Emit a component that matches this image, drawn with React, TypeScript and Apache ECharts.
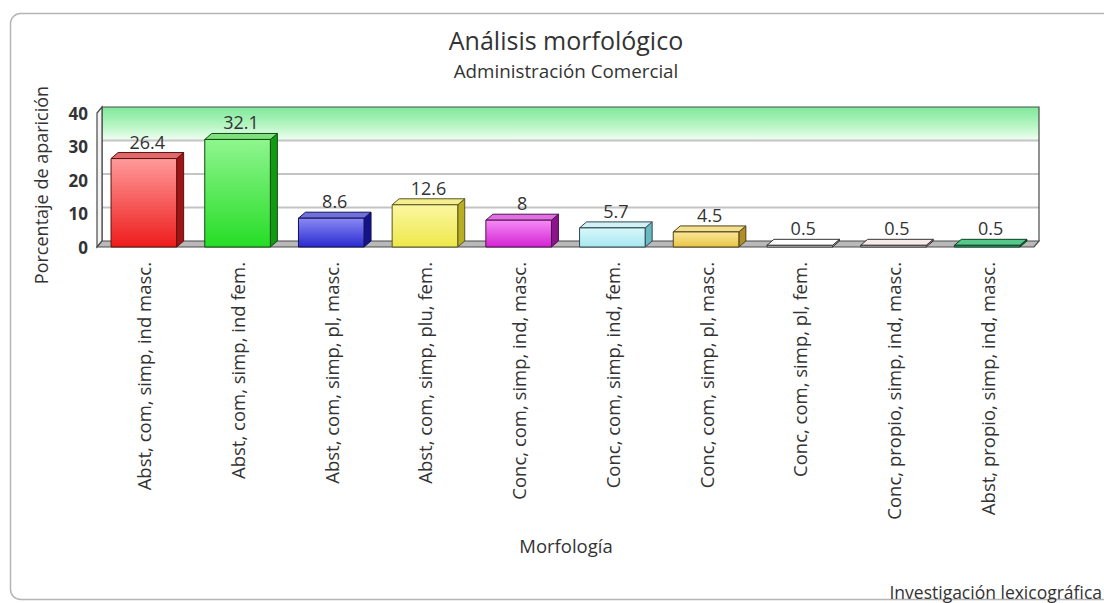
import React, { useEffect, useRef } from "react";
import * as echarts from "echarts";

const categories = [
  "Abst, com, simp, ind masc.",
  "Abst, com, simp, ind fem.",
  "Abst, com, simp, pl, masc.",
  "Abst, com, simp, plu, fem.",
  "Conc, com, simp, ind, masc.",
  "Conc, com, simp, ind, fem.",
  "Conc, com, simp, pl, masc.",
  "Conc, com, simp, pl, fem.",
  "Conc, propio, simp, ind, masc.",
  "Abst, propio, simp, ind, masc.",
];
const values = [26.4, 32.1, 8.6, 12.6, 8, 5.7, 4.5, 0.5, 0.5, 0.5];
const yTicks = [0, 10, 20, 30, 40];
const bandRange = [30, 40];

const barColors = [
  { light: "#ff9a9a", main: "#ee1c1c", side: "#a01414", top: "#e06a6a", edge: "#5a1010" },
  { light: "#8ff58f", main: "#26dd26", side: "#129a12", top: "#7ee07e", edge: "#0d4d0d" },
  { light: "#8a8af5", main: "#2a2ad0", side: "#14148a", top: "#7070dd", edge: "#101050" },
  { light: "#fbf7a0", main: "#eee84a", side: "#b8ae22", top: "#f4ee90", edge: "#555520" },
  { light: "#f58af5", main: "#d424d4", side: "#8a148a", top: "#e070e0", edge: "#501050" },
  { light: "#d8f8fb", main: "#a8e8f0", side: "#6ab8c2", top: "#d0f2f6", edge: "#304850" },
  { light: "#fbe79a", main: "#e8c444", side: "#b08e28", top: "#f3df90", edge: "#504018" },
  { light: "#ffffff", main: "#f4f4f4", side: "#bdbdbd", top: "#ffffff", edge: "#333333" },
  { light: "#f8eeee", main: "#ead8d8", side: "#b8a0a0", top: "#f6eaea", edge: "#333333" },
  { light: "#5fd495", main: "#22aa66", side: "#117744", top: "#55c88a", edge: "#0d3d22" },
];

const FONT = "'Open Sans', 'Noto Sans', sans-serif";
const DX = 5;
const DY = -6;
const BDX = 7;
const BDY = -6;

export default function App() {
  const ref = useRef<HTMLDivElement>(null);
  useEffect(() => {
    if (!ref.current) return;
    const chart = echarts.init(ref.current, null, { renderer: "svg" });
    const option: any = {
      animation: false,
      backgroundColor: "#ffffff",
      grid: { left: 97, right: 70, top: 113, bottom: 356, containLabel: false },
      xAxis: {
        type: "category",
        data: categories,
        axisLine: { show: false },
        axisTick: { show: false },
        axisLabel: {
          interval: 0,
          rotate: 90,
          margin: 15,
          fontSize: 18.5,
          color: "#333",
          fontFamily: FONT,
        },
      },
      yAxis: {
        type: "value",
        min: 0,
        max: 40,
        interval: 10,
        axisLine: { show: false },
        axisTick: { show: false },
        splitLine: { show: false },
        axisLabel: {
          margin: 9,
          fontSize: 17,
          fontWeight: "bold",
          color: "#333",
          fontFamily: FONT,
        },
      },
      graphic: [
        {
          type: "rect",
          z: -10,
          shape: { x: 10.5, y: 13.5, width: 1110, height: 586, r: 10 },
          style: { fill: "#ffffff", stroke: "#b5b5b5", lineWidth: 1.5 },
        },
        {
          type: "text",
          x: 566,
          y: 40,
          style: {
            text: "Análisis morfológico",
            font: `25px ${FONT}`,
            fill: "#333",
            align: "center",
            verticalAlign: "middle",
          },
        },
        {
          type: "text",
          x: 566,
          y: 71,
          style: {
            text: "Administración Comercial",
            font: `18.8px ${FONT}`,
            fill: "#333",
            align: "center",
            verticalAlign: "middle",
          },
        },
        {
          type: "text",
          x: 41,
          y: 185,
          rotation: Math.PI / 2,
          style: {
            text: "Porcentaje de aparición",
            font: `18px ${FONT}`,
            fill: "#333",
            align: "center",
            verticalAlign: "middle",
          },
        },
        {
          type: "text",
          x: 566,
          y: 545,
          style: {
            text: "Morfología",
            font: `18.5px ${FONT}`,
            fill: "#333",
            align: "center",
            verticalAlign: "middle",
          },
        },
        {
          type: "text",
          x: 1102,
          y: 592,
          style: {
            text: "Investigación lexicográfica",
            font: `17.5px ${FONT}`,
            fill: "#333",
            align: "right",
            verticalAlign: "middle",
          },
        },
      ],
      series: [
        {
          type: "custom",
          z: 1,
          silent: true,
          data: [[0, 0]],
          renderItem: (params: any, api: any) => {
            const cs = params.coordSys;
            const fl = cs.x;
            const fr = cs.x + cs.width;
            const ft = cs.y;
            const fb = cs.y + cs.height;
            const bl = fl + DX;
            const br = fr + DX;
            const bt = ft + DY;
            const bb = fb + DY;
            const yb1 = api.coord([0, bandRange[1]])[1] + DY;
            const yb0 = api.coord([0, bandRange[0]])[1] + DY;
            const children: any[] = [
              {
                type: "rect",
                shape: { x: bl, y: bt, width: br - bl, height: bb - bt },
                style: { fill: "#ffffff", stroke: "none" },
              },
              {
                type: "rect",
                shape: { x: bl, y: yb1, width: br - bl, height: yb0 - yb1 },
                style: {
                  fill: new echarts.graphic.LinearGradient(0, 0, 0, 1, [
                    { offset: 0, color: "#7ee99a" },
                    { offset: 0.55, color: "#b6f5c2" },
                    { offset: 1, color: "#f2fff4" },
                  ]),
                },
              },
            ];
            yTicks.forEach((t) => {
              if (t === 0 || t === 40) return;
              const y = api.coord([0, t])[1] + DY;
              children.push({
                type: "line",
                shape: { x1: bl, y1: y, x2: br, y2: y },
                style: { stroke: "#c4c4c4", lineWidth: 2 },
              });
              children.push({
                type: "line",
                shape: { x1: fl, y1: y - DY, x2: bl, y2: y },
                style: { stroke: "#c4c4c4", lineWidth: 2 },
              });
            });
            children.push({
              type: "polyline",
              shape: { points: [[bl, bb], [bl, bt], [br, bt], [br, bb]] },
              style: { stroke: "#4a4a4a", lineWidth: 1.2, fill: "none" },
            });
            children.push({
              type: "polygon",
              shape: { points: [[fl, ft], [bl, bt], [bl, bb], [fl, fb]] },
              style: { fill: "#f3f3f3", stroke: "#4a4a4a", lineWidth: 1.2 },
            });
            children.push({
              type: "polygon",
              shape: { points: [[fl, fb], [bl, bb], [br, bb], [fr, fb]] },
              style: { fill: "#b9b9b9", stroke: "#4a4a4a", lineWidth: 1.2 },
            });
            return { type: "group", children };
          },
        },
        {
          type: "custom",
          z: 2,
          data: values.map((v, i) => [i, v]),
          renderItem: (params: any, api: any) => {
            const idx = api.value(0);
            const v = api.value(1);
            const top = api.coord([idx, v]);
            const base = api.coord([idx, 0]);
            const bw = api.size([1, 0])[0] * 0.7;
            const x0 = top[0] - bw / 2;
            const x1 = top[0] + bw / 2;
            const y0 = top[1];
            const y1 = base[1];
            const c = barColors[idx];
            return {
              type: "group",
              children: [
                {
                  type: "polygon",
                  shape: { points: [[x1, y1], [x1 + BDX, y1 + BDY], [x1 + BDX, y0 + BDY], [x1, y0]] },
                  style: { fill: c.side, stroke: c.edge, lineWidth: 1 },
                },
                {
                  type: "polygon",
                  shape: { points: [[x0, y0], [x0 + BDX, y0 + BDY], [x1 + BDX, y0 + BDY], [x1, y0]] },
                  style: { fill: c.top, stroke: c.edge, lineWidth: 1 },
                },
                {
                  type: "rect",
                  shape: { x: x0, y: y0, width: bw, height: Math.max(1, y1 - y0) },
                  style: {
                    fill: new echarts.graphic.LinearGradient(0, 0, 0, 1, [
                      { offset: 0, color: c.light },
                      { offset: 1, color: c.main },
                    ]),
                    stroke: c.edge,
                    lineWidth: 1,
                  },
                },
                {
                  type: "text",
                  style: {
                    text: String(v),
                    x: (x0 + x1) / 2 + BDX / 2,
                    y: y0 + BDY - 2,
                    align: "center",
                    verticalAlign: "bottom",
                    font: `18px ${FONT}`,
                    fill: "#333",
                  },
                },
              ],
            };
          },
        },
      ],
    };
    chart.setOption(option);
    return () => chart.dispose();
  }, []);
  return (
    <div
      ref={ref}
      style={{ position: "fixed", left: 0, top: 0, width: 1104, height: 603 }}
    />
  );
}
